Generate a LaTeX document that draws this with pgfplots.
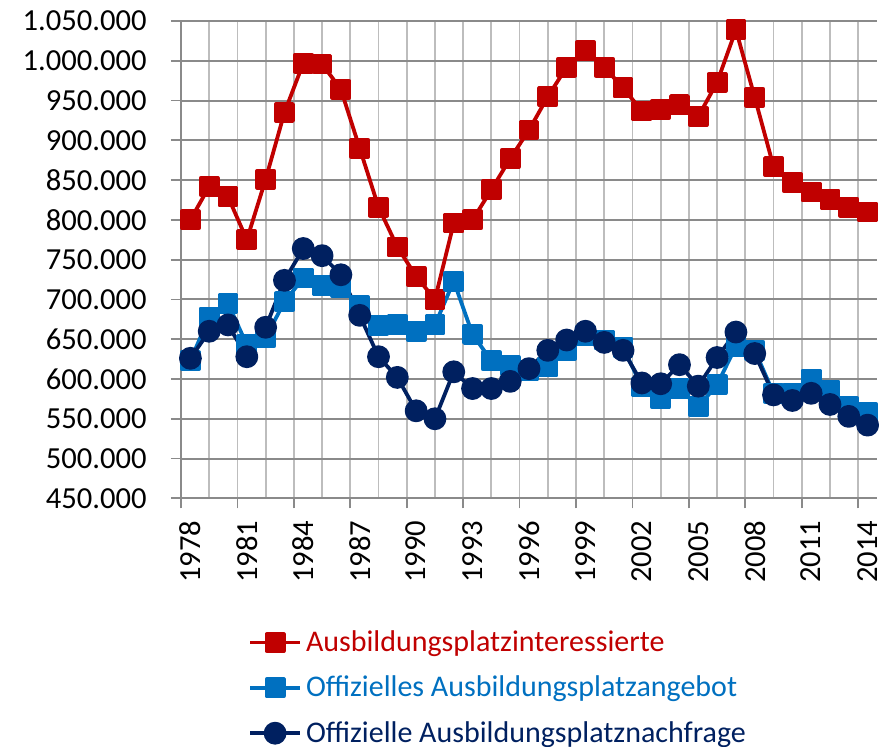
\documentclass[border=0pt]{standalone}
\usepackage{fontspec}
\setmainfont{Carlito}
\usepackage{pgfplots}
\pgfplotsset{compat=1.18}
\usepackage{pgfplotstable}

\definecolor{cRed}{HTML}{C00000}
\definecolor{cBlue}{HTML}{0070C0}
\definecolor{cNavy}{HTML}{002060}
\definecolor{gridH}{HTML}{8A8A8A}
\definecolor{gridV}{HTML}{BDBDBD}

% values in thousands
\pgfplotstableread{
year inter angebot nachfrage
1978  800 623 626
1979  842 678 660
1980  829 695 668
1981  775 643 628
1982  851 652 665
1983  935 697 724
1984  997 727 764
1985  996 718 755
1986  964 715 731
1987  890 692 680
1988  816 667 628
1989  766 669 602
1990  729 660 560
1991  700 668 550
1992  796 723 609
1993  800 656 588
1994  838 623 588
1995  877 617 597
1996  913 611 613
1997  955 615 636
1998  992 636 649
1999 1013 655 660
2000  992 649 646
2001  966 640 636
2002  937 590 595
2003  939 575 594
2004  945 588 618
2005  930 565 591
2006  973 593 627
2007 1039 641 659
2008  954 636 632
2009  867 582 580
2010  847 582 573
2011  835 600 582
2012  826 586 568
2013  816 565 553
2014  810 558 542
}\ausbildung

\begin{document}
\begin{tikzpicture}
\begin{axis}[
    at={(0,0)}, anchor=south west,
    scale only axis,
    width=348pt, height=238.65pt,
    xmin=1977.5, xmax=2014.5,
    ymin=450, ymax=1050,
    clip=false,
    axis lines=left,
    axis line style={draw=gridH, line width=0.9pt, -},
    tick align=outside,
    major tick length=5pt,
    minor tick length=0pt,
    tick style={draw=gridH, line width=0.9pt},
    xtick={1977.5,1980.5,1983.5,1986.5,1989.5,1992.5,1995.5,1998.5,2001.5,2004.5,2007.5,2010.5,2013.5},
    xticklabels={},
    minor xtick={1979,1982,1985,1988,1991,1994,1997,2000,2003,2006,2009,2012},
    extra x ticks={1978,1981,1984,1987,1990,1993,1996,1999,2002,2005,2008,2011,2014},
    extra x tick labels={1978,1981,1984,1987,1990,1993,1996,1999,2002,2005,2008,2011,2014},
    extra x tick style={grid=none, major tick length=0pt,
        tick label style={rotate=90, anchor=east, inner xsep=11pt}},
    ytick={450,500,...,1050},
    yticklabel={\pgfmathprintnumber{\tick}.000},
    yticklabel style={inner xsep=12pt},
    tick label style={font=\fontsize{15.3}{18}\selectfont, text=black},
    xmajorgrids, xminorgrids, ymajorgrids,
    every axis x grid/.style={draw=gridV, line width=0.9pt},
    every axis y grid/.style={draw=gridH, line width=1pt},
    legend style={at={(0.096,-0.268)}, anchor=north west, draw=none, fill=none,
        font=\fontsize{15}{18}\selectfont, row sep=6.75pt, inner sep=0pt},
    legend cell align=left,
    legend image code/.code={\draw[mark repeat=2,mark phase=2]
        plot coordinates {(0pt,0pt) (12.5pt,0pt) (25pt,0pt)};},
    /pgf/number format/.cd, 1000 sep={.}, assume math mode=true,
]
\addplot[cRed, line width=1.9pt, line join=round, mark=square*, mark size=4.25pt,
    mark options={solid}] table[x=year, y=inter] {\ausbildung};
\addlegendentry[text=cRed]{Ausbildungsplatzinteressierte}
\addplot[cBlue, line width=1.9pt, line join=round, mark=square*, mark size=4.25pt,
    mark options={solid}] table[x=year, y=angebot] {\ausbildung};
\addlegendentry[text=cBlue]{Offizielles Ausbildungsplatzangebot}
\addplot[cNavy, line width=1.9pt, line join=round, mark=*, mark size=4.75pt,
    mark options={solid}] table[x=year, y=nachfrage] {\ausbildung};
\addlegendentry[text=cNavy]{Offizielle Ausbildungsplatznachfrage}
\end{axis}
\pgfresetboundingbox
\path (-90.5pt,-123.85pt) rectangle (354pt,249.15pt);
\end{tikzpicture}
\end{document}
